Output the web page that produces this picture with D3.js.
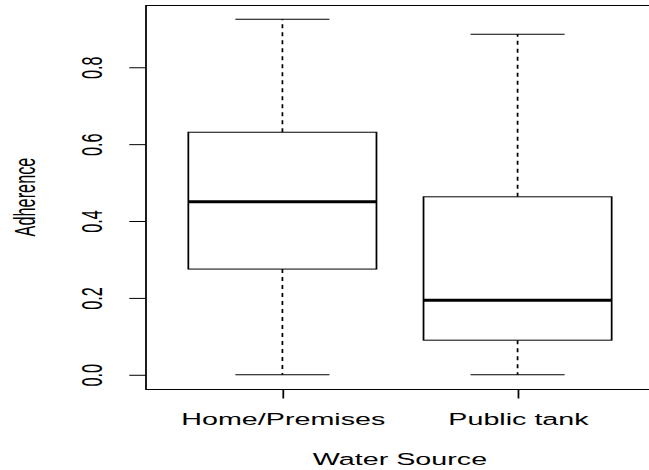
<!DOCTYPE html>
<html>
<head>
<meta charset="utf-8">
<script src="https://cdn.jsdelivr.net/npm/d3@7"></script>
<style>
  html, body { margin: 0; padding: 0; background: #fff; }
  svg { display: block; }
  text { font-family: "Liberation Sans", Arial, sans-serif; fill: #000; }
</style>
</head>
<body>
<svg id="chart" width="649" height="470"></svg>
<script>
// Adherence by water source: five-number summaries per group
const categories   = ["Home/Premises", "Public tank"];
const whiskerLow   = [0.000, 0.000];
const quartile1    = [0.275, 0.090];
const medians      = [0.450, 0.194];
const quartile3    = [0.631, 0.463];
const whiskerHigh  = [0.925, 0.886];
const yTickValues  = [0, 0.2, 0.4, 0.6, 0.8];
const xTitle = "Water Source";
const yTitle = "Adherence";

// The device is stretched horizontally; everything is laid out in
// unstretched units and widened by this factor.
const stretch = 1.76;
const plot = { left: 146 / stretch, right: 654 / stretch, top: 5, bottom: 389 };

const svg = d3.select("#chart");
const g = svg.append("g").attr("transform", `scale(${stretch},1)`);

// Scales with 4% padding on either side of the data range
const yMin = d3.min(whiskerLow), yMax = d3.max(whiskerHigh);
const yPad = (yMax - yMin) * 0.04;
const y = d3.scaleLinear().domain([yMin - yPad, yMax + yPad]).range([plot.bottom, plot.top]);

const xLo = 0.5, xHi = categories.length + 0.5, xPad = (xHi - xLo) * 0.04;
const x = d3.scaleLinear().domain([xLo - xPad, xHi + xPad]).range([plot.left, plot.right]);

const boxHalf = 0.4, capHalf = 0.2;
const data = categories.map((c, i) => ({
  name: c, pos: i + 1,
  lo: whiskerLow[i], q1: quartile1[i], med: medians[i], q3: quartile3[i], hi: whiskerHigh[i]
}));

const ink = "#000";
const fontSize = "16.3px";

// Boxes
const boxes = g.selectAll("g.box").data(data).join("g").attr("class", "box");

// Whiskers (dashed)
boxes.append("line")
  .attr("x1", d => x(d.pos)).attr("x2", d => x(d.pos))
  .attr("y1", d => y(d.q3)).attr("y2", d => y(d.hi))
  .attr("stroke", ink).attr("stroke-width", 1).attr("stroke-dasharray", "4,4");
boxes.append("line")
  .attr("x1", d => x(d.pos)).attr("x2", d => x(d.pos))
  .attr("y1", d => y(d.q1)).attr("y2", d => y(d.lo))
  .attr("stroke", ink).attr("stroke-width", 1).attr("stroke-dasharray", "4,4");

// Whisker caps
boxes.append("line")
  .attr("x1", d => x(d.pos - capHalf)).attr("x2", d => x(d.pos + capHalf))
  .attr("y1", d => y(d.hi)).attr("y2", d => y(d.hi))
  .attr("stroke", ink).attr("stroke-width", 1);
boxes.append("line")
  .attr("x1", d => x(d.pos - capHalf)).attr("x2", d => x(d.pos + capHalf))
  .attr("y1", d => y(d.lo)).attr("y2", d => y(d.lo))
  .attr("stroke", ink).attr("stroke-width", 1);

// Interquartile box
boxes.append("rect")
  .attr("x", d => x(d.pos - boxHalf))
  .attr("width", d => x(d.pos + boxHalf) - x(d.pos - boxHalf))
  .attr("y", d => y(d.q3))
  .attr("height", d => y(d.q1) - y(d.q3))
  .attr("fill", "#fff").attr("stroke", ink).attr("stroke-width", 1);

// Median
boxes.append("line")
  .attr("x1", d => x(d.pos - boxHalf)).attr("x2", d => x(d.pos + boxHalf))
  .attr("y1", d => y(d.med)).attr("y2", d => y(d.med))
  .attr("stroke", ink).attr("stroke-width", 3);

// Plot frame
g.append("rect")
  .attr("x", plot.left).attr("y", plot.top + 0.5)
  .attr("width", plot.right - plot.left)
  .attr("height", plot.bottom - plot.top)
  .attr("fill", "none").attr("stroke", ink).attr("stroke-width", 1);

// Y axis
const yAxis = g.append("g")
  .attr("transform", `translate(${plot.left},0)`)
  .call(d3.axisLeft(y).tickValues(yTickValues).tickFormat(d3.format(".1f"))
        .tickSize(16.7 / stretch).tickPadding(0));
yAxis.select(".domain").remove();
yAxis.selectAll(".tick line").attr("stroke", ink);
yAxis.selectAll(".tick text")
  .attr("x", null).attr("dy", null)
  .attr("transform", `translate(${-(plot.left - 102 / stretch)},0) rotate(-90)`)
  .attr("text-anchor", "middle")
  .style("font-size", fontSize)
  .style("font-family", "'Liberation Sans', Arial, sans-serif")
  .attr("fill", ink);

// X axis
const xAxis = g.append("g")
  .attr("transform", `translate(0,${plot.bottom})`)
  .call(d3.axisBottom(x).tickValues(data.map(d => d.pos))
        .tickFormat((d, i) => categories[i]).tickSize(9.5).tickPadding(0));
xAxis.select(".domain").remove();
xAxis.selectAll(".tick line").attr("stroke", ink);
xAxis.selectAll(".tick text")
  .attr("y", 425 - plot.bottom).attr("dy", null)
  .attr("text-anchor", "middle")
  .style("font-size", fontSize)
  .style("font-family", "'Liberation Sans', Arial, sans-serif")
  .attr("fill", ink);

// Axis titles
g.append("text")
  .attr("x", (plot.left + plot.right) / 2).attr("y", 465.5)
  .attr("text-anchor", "middle")
  .style("font-size", fontSize)
  .text(xTitle);

g.append("text")
  .attr("transform", `translate(${35 / stretch},${(plot.top + plot.bottom) / 2}) rotate(-90)`)
  .attr("text-anchor", "middle")
  .style("font-size", fontSize)
  .text(yTitle);
</script>
</body>
</html>
